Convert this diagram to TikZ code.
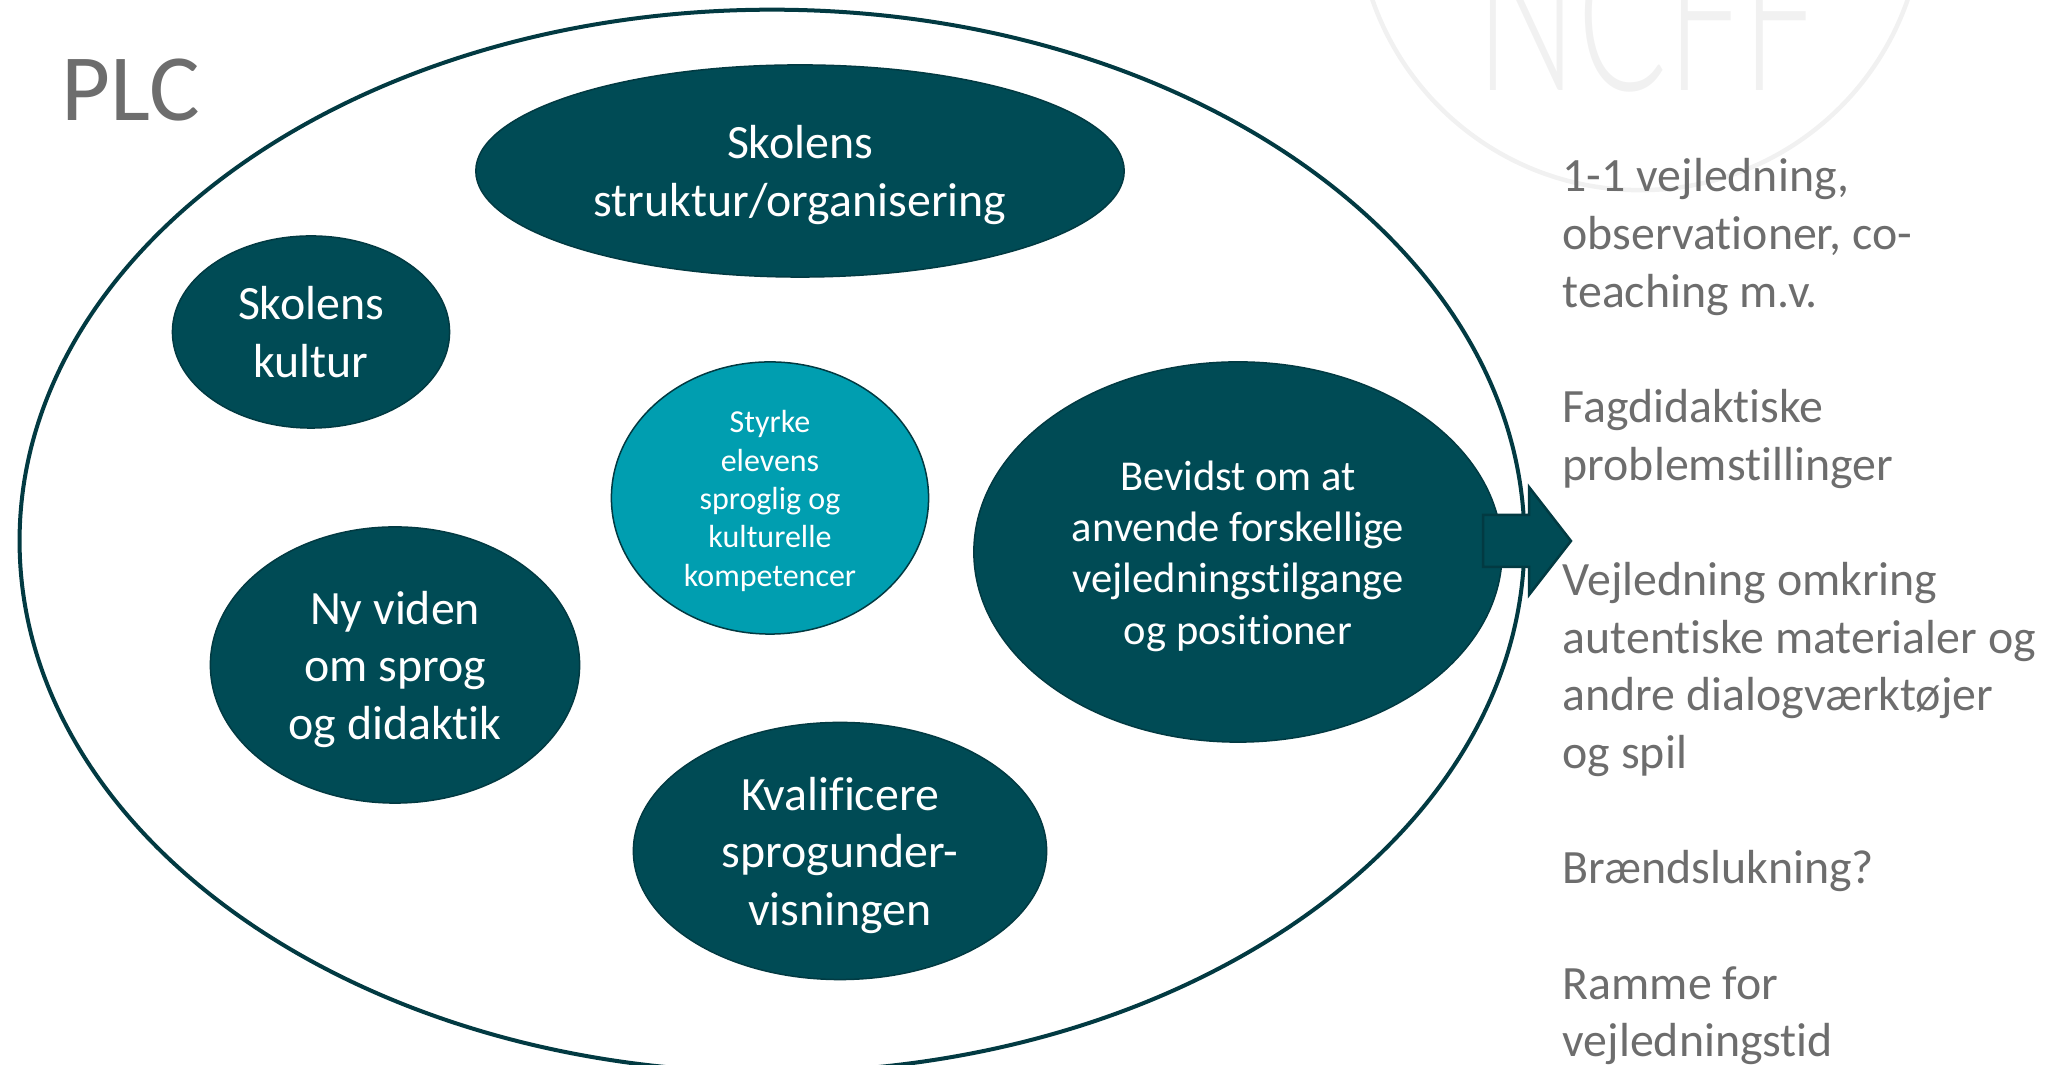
\documentclass[tikz,border=0pt]{standalone}
\usepackage{fontspec}
\setmainfont[Ligatures=NoCommon]{Carlito}
\newfontfamily\logofont{Lato Light}
\usetikzlibrary{shapes.geometric}
\definecolor{tealfill}{HTML}{004B55}
\definecolor{tealline}{HTML}{023A42}
\definecolor{cyanfill}{HTML}{009EB0}
\definecolor{greytext}{HTML}{6D6D6D}
\definecolor{logogrey}{HTML}{F1F1F1}

\begin{document}
\begin{tikzpicture}[x=0.01cm, y=-0.01cm,
                    topicnode/.style={ellipse, draw=tealline, fill=tealfill, line width=0.15mm, inner sep=0pt, align=center, text=white, text depth=0pt},
                    bignode/.style={topicnode, text height=#1, font=\fontsize{13.6}{16.4}\selectfont},
                    midnode/.style={topicnode, text height=#1, font=\fontsize{12.1}{14.6}\selectfont},
                    corenode/.style={topicnode, text height=#1, fill=cyanfill, font=\fontsize{9.1}{10.9}\selectfont},
                ]
                    \useasboundingbox (0,0) rectangle (2056,1065);
                    \clip (0,0) rectangle (2056,1065);

                    %Logo
                    \node[circle, draw=logogrey, line width=0.45mm, minimum size=5.66cm, inner sep=0pt](logo) at (1640,-93) {};
                    \node[text=logogrey, xscale=0.62, transform shape, font=\logofont\fontsize{61}{61}\selectfont, inner sep=0pt, anchor=base](logotext) at (1647,91) {NCFF};

                    %Nodes
                    \node[ellipse, draw=tealline, line width=0.4mm, minimum width=15.04cm, minimum height=10.62cm](plc) at (772,541) {};
                    \node[bignode=25.9pt, minimum width=6.48cm, minimum height=2.12cm](struktur) at (800,171) {Skolens\\struktur/organisering};
                    \node[bignode=25.9pt, minimum width=2.77cm, minimum height=1.92cm](kultur) at (311,332) {Skolens\\kultur};
                    \node[corenode=50.1pt, minimum width=3.17cm, minimum height=2.72cm](styrke) at (770,498) {Styrke\\elevens\\sproglig og\\kulturelle\\kompetencer};
                    \node[midnode=52.4pt, minimum width=5.28cm, minimum height=3.8cm](bevidst) at (1238,552) {Bevidst om at\\anvende forskellige\\vejledningstilgange\\og positioner};
                    \node[bignode=42.3pt, minimum width=3.69cm, minimum height=2.76cm](viden) at (395,665) {Ny viden\\om sprog\\og didaktik};
                    \node[bignode=42.3pt, minimum width=4.13cm, minimum height=2.57cm](kval) at (840,851) {Kvalificere\\sprogunder-\\visningen};

                    %Arrow
                    \draw[draw=tealline, fill=tealfill, line width=0.25mm, line join=miter] (1483,515) -- (1529,515) -- (1529,487) -- (1571,541) -- (1529,595) -- (1529,567) -- (1483,567) -- cycle;

                    %Texts
                    \node[text=greytext, font=\fontsize{27}{30}\selectfont, inner sep=0pt, anchor=base west](plctitle) at (61,121) {PLC};
                    \node[text=greytext, font=\fontsize{13.6}{16.4}\selectfont, inner sep=0pt, anchor=north west, align=left](vejledning) at (1562,158) {1-1 vejledning,\\observationer, co-\\teaching m.v.\\[16.4pt]Fagdidaktiske\\problemstillinger\\[16.4pt]Vejledning omkring\\autentiske materialer og\\andre dialogværktøjer\\og spil\\[16.4pt]Brændslukning?\\[16.4pt]Ramme for\\vejledningstid};
                \end{tikzpicture}
\end{document}
